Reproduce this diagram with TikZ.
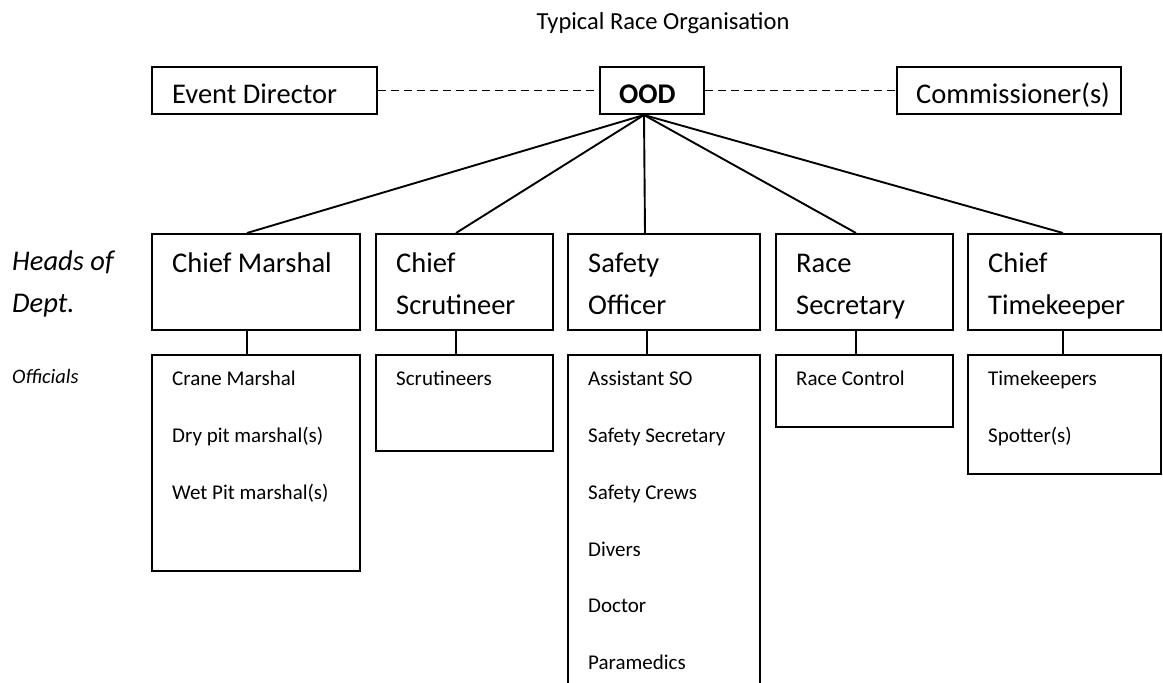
\documentclass[tikz,border=0pt]{standalone}
\usepackage{fontspec}
\setmainfont{Carlito}
\begin{document}
\begin{tikzpicture}[x=1pt,y=-1pt,
  box/.style={draw, line width=2pt, inner sep=0pt, anchor=north west, rectangle},
  lbl/.style={anchor=base west, inner sep=0pt},
  big/.style={font=\fontsize{28.5}{34}\selectfont},
  small/.style={font=\fontsize{21}{25}\selectfont},
  conn/.style={line width=1.9pt},
  dsh/.style={line width=1.9pt, dash pattern=on 8pt off 5pt}]
\useasboundingbox (0,0) rectangle (1163,683);
\clip (0,0) rectangle (1163,683);
% title
\node[anchor=base, inner sep=0pt, font=\fontsize{24.5}{29}\selectfont] (title) at (663,29) {Typical Race Organisation};
% top row
\node[box, minimum width=225pt, minimum height=47pt] (ed) at (151,66) {};
\node[box, minimum width=104pt, minimum height=47pt] (ood) at (599,66) {};
\node[box, minimum width=224pt, minimum height=47pt] (com) at (896,66) {};
\node[lbl, big] (edt) at (172,103) {Event Director};
\node[lbl, big] (oodt) at (619,103) {\bfseries OOD};
\node[lbl, big] (comt) at (916,103) {Commissioner(s)};
\draw[dsh] (ed.east) -- (ood.west);
\draw[dsh] (ood.east) -- (com.west);
% heads
\node[box, minimum width=208pt, minimum height=96pt] (cm) at (151,233) {};
\node[box, minimum width=177pt, minimum height=96pt] (sc) at (375,233) {};
\node[box, minimum width=192pt, minimum height=96pt] (so) at (567,233) {};
\node[box, minimum width=177pt, minimum height=96pt] (rs) at (775,233) {};
\node[box, minimum width=193pt, minimum height=96pt] (ct) at (967,233) {};
\node[lbl, big] (cmt) at (172,272) {Chief Marshal};
\node[lbl, big] (sct1) at (396,272) {Chief};
\node[lbl, big] (sct2) at (396,314) {Scrutineer};
\node[lbl, big] (sot1) at (588,272) {Safety};
\node[lbl, big] (sot2) at (588,314) {Officer};
\node[lbl, big] (rst1) at (796,272) {Race};
\node[lbl, big] (rst2) at (796,314) {Secretary};
\node[lbl, big] (ctt1) at (988,272) {Chief};
\node[lbl, big] (ctt2) at (988,314) {Timekeeper};
% fan
\draw[conn] ([xshift=45pt]ood.south west) -- ([xshift=96pt]cm.north west);
\draw[conn] ([xshift=45pt]ood.south west) -- ([xshift=81pt]sc.north west);
\draw[conn] ([xshift=45pt]ood.south west) -- ([xshift=78pt]so.north west);
\draw[conn] ([xshift=45pt]ood.south west) -- ([xshift=81pt]rs.north west);
\draw[conn] ([xshift=45pt]ood.south west) -- ([xshift=96pt]ct.north west);
% officials boxes
\node[box, minimum width=208pt, minimum height=216pt] (cmo) at (151,354) {};
\node[box, minimum width=177pt, minimum height=96pt] (sco) at (375,354) {};
\node[box, minimum width=192pt, minimum height=360pt] (soo) at (567,354) {};
\node[box, minimum width=177pt, minimum height=72pt] (rso) at (775,354) {};
\node[box, minimum width=193pt, minimum height=119pt] (cto) at (967,354) {};
\draw[conn] ([xshift=96pt]cm.south west) -- ([xshift=96pt]cmo.north west);
\draw[conn] ([xshift=81pt]sc.south west) -- ([xshift=81pt]sco.north west);
\draw[conn] ([xshift=80pt]so.south west) -- ([xshift=80pt]soo.north west);
\draw[conn] ([xshift=81pt]rs.south west) -- ([xshift=81pt]rso.north west);
\draw[conn] ([xshift=96pt]ct.south west) -- ([xshift=96pt]cto.north west);
% officials text
\node[lbl, small] (o1) at (172,385) {Crane Marshal};
\node[lbl, small] (o2) at (172,442) {Dry pit marshal(s)};
\node[lbl, small] (o3) at (172,499) {Wet Pit marshal(s)};
\node[lbl, small] (o4) at (396,385) {Scrutineers};
\node[lbl, small] (o5) at (588,385) {Assistant SO};
\node[lbl, small] (o6) at (588,442) {Safety Secretary};
\node[lbl, small] (o7) at (588,499) {Safety Crews};
\node[lbl, small] (o8) at (588,556) {Divers};
\node[lbl, small] (o9) at (588,612) {Doctor};
\node[lbl, small] (o10) at (588,669) {Paramedics};
\node[lbl, small] (o11) at (796,385) {Race Control};
\node[lbl, small] (o12) at (988,385) {Timekeepers};
\node[lbl, small] (o13) at (988,442) {Spotter(s)};
% left labels
\node[lbl, big] (h1) at (12,270) {\itshape Heads of};
\node[lbl, big] (h2) at (12,312) {\itshape Dept.};
\node[lbl, font=\fontsize{20.5}{24}\selectfont] (off) at (12,383) {\itshape Officials};
\end{tikzpicture}
\end{document}
